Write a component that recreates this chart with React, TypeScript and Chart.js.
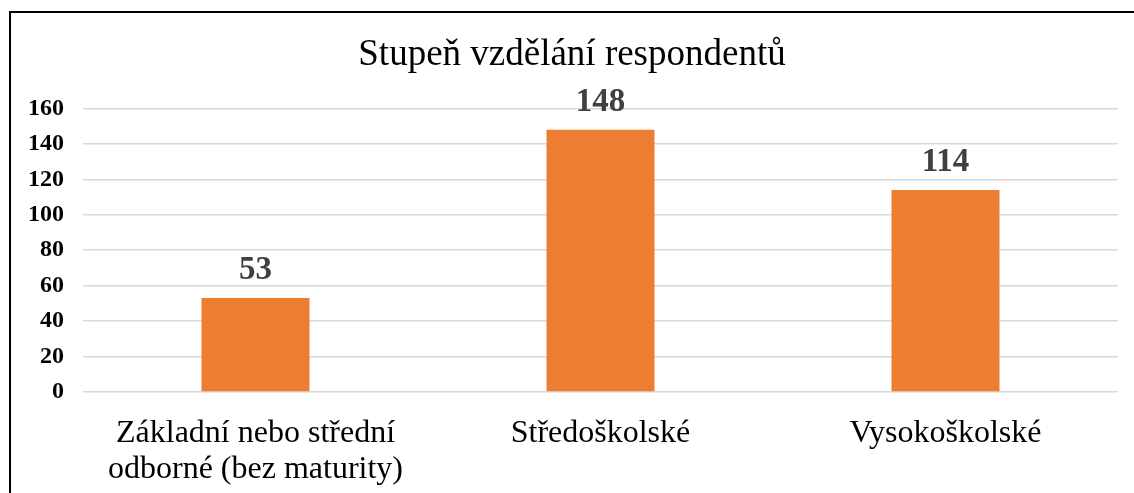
import React, { useEffect, useRef } from "react";
import { Chart, registerables } from "chart.js";

Chart.register(...registerables);

const categories: (string | string[])[] = [
  ["Základní nebo střední", "odborné (bez maturity)"],
  "Středoškolské",
  "Vysokoškolské",
];
const values: number[] = [53, 148, 114];
const titleText = "Stupeň vzdělání respondentů";
const yMax = 160;
const yStep = 20;

const SERIF = "'Liberation Serif', 'Times New Roman', serif";

const valueLabels = {
  id: "valueLabels",
  afterDatasetsDraw(chart: any) {
    const ctx = chart.ctx;
    const meta = chart.getDatasetMeta(0);
    ctx.save();
    ctx.font = `bold 33px ${SERIF}`;
    ctx.fillStyle = "#404040";
    ctx.textAlign = "center";
    ctx.textBaseline = "alphabetic";
    meta.data.forEach((bar: any, i: number) => {
      ctx.fillText(String(chart.data.datasets[0].data[i]), bar.x, bar.y - 19);
    });
    ctx.restore();
  },
};

export default function App() {
  const ref = useRef<HTMLCanvasElement | null>(null);
  useEffect(() => {
    if (!ref.current) return;
    const chart = new Chart(ref.current, {
      type: "bar",
      data: {
        labels: categories,
        datasets: [
          {
            data: values,
            backgroundColor: "#ED7D31",
            categoryPercentage: 1,
            barPercentage: 0.313,
          },
        ],
      },
      plugins: [valueLabels],
      options: {
        animation: false,
        responsive: false,
        maintainAspectRatio: false,
        layout: { padding: { left: 26, right: 16, top: 10, bottom: 0 } },
        plugins: {
          legend: { display: false },
          tooltip: { enabled: false },
          title: {
            display: true,
            text: titleText,
            color: "#000000",
            font: { family: SERIF, size: 37, weight: "normal", lineHeight: 1.2 },
            padding: { top: 23, bottom: 31 },
          },
        },
        scales: {
          x: {
            grid: { display: false, drawTicks: false },
            border: { display: false },
            afterFit(scale: any) {
              scale.height = 101;
            },
            ticks: {
              color: "#000000",
              font: { family: SERIF, size: 32, lineHeight: 1.14 },
              padding: 23,
              maxRotation: 0,
              autoSkip: false,
            },
          },
          y: {
            min: 0,
            max: yMax,
            border: { display: false },
            grid: { color: "#d9d9d9", lineWidth: 1.5, drawTicks: false },
            afterFit(scale: any) {
              scale.width = 57;
            },
            ticks: {
              stepSize: yStep,
              color: "#000000",
              font: { family: SERIF, size: 24, weight: "bold" },
              padding: 19,
            },
          },
        },
      },
    });
    return () => chart.destroy();
  }, []);

  return (
    <div
      style={{
        position: "fixed",
        left: 0,
        top: 0,
        width: 1134,
        height: 493,
        overflow: "hidden",
        background: "#ffffff",
      }}
    >
      <canvas
        ref={ref}
        width={1134}
        height={493}
        style={{ position: "absolute", left: 0, top: 0, width: 1134, height: 493 }}
      />
      <div
        style={{
          position: "absolute",
          left: 9,
          top: 11,
          width: 1300,
          height: 700,
          border: "2px solid #000000",
          pointerEvents: "none",
        }}
      />
    </div>
  );
}
